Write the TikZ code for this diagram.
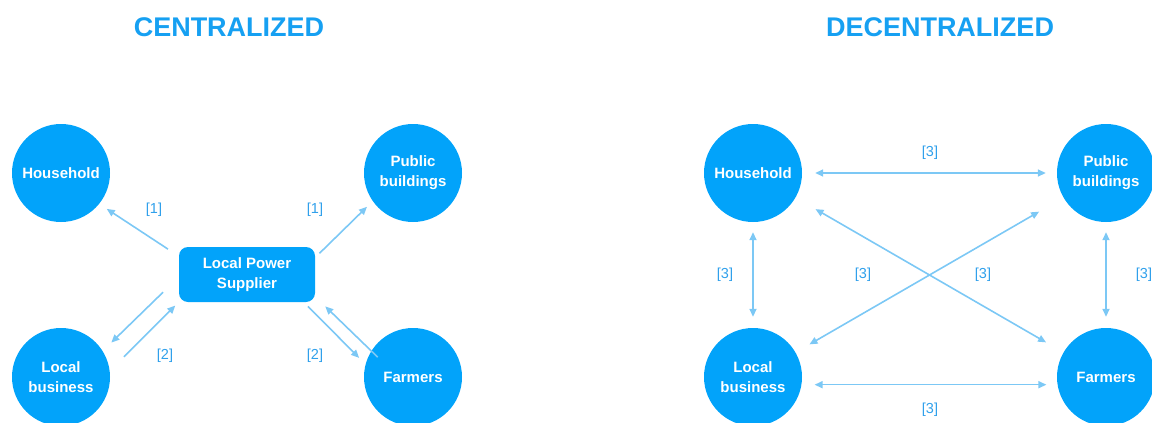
\documentclass[tikz,border=0pt]{standalone}
\usepackage{fontspec}
\setmainfont{Liberation Sans}
\usetikzlibrary{arrows.meta}

\begin{document}
\begin{tikzpicture}[x=1pt,y=-1pt,
    site/.style={circle, fill=sitecol, text=white, minimum size=98pt, inner sep=0pt, align=center,
      font=\fontsize{15pt}{20pt}\selectfont\bfseries},
    supplier/.style={rectangle, rounded corners=9pt, fill=sitecol, text=white, minimum width=136pt,
      minimum height=55pt, align=center, font=\fontsize{15pt}{20pt}\selectfont\bfseries},
    flow/.style={draw=flowcol, line width=1.6pt, -{Triangle[length=8pt,width=7pt]}},
    trade/.style={flow, {Triangle[length=8pt,width=7pt]}-{Triangle[length=8pt,width=7pt]}},
    tag/.style={text=tagcol, inner sep=0pt, font=\fontsize{14.5pt}{14.5pt}\selectfont},
    heading/.style={text=headcol, inner sep=0pt, font=\fontsize{27pt}{27pt}\selectfont\bfseries}]
  \definecolor{sitecol}{RGB}{2, 163, 250}
  \definecolor{flowcol}{RGB}{124, 200, 245}
  \definecolor{tagcol}{RGB}{48, 160, 235}
  \definecolor{headcol}{RGB}{22, 160, 242}
  \useasboundingbox (0,0) rectangle (1152,423);

  % centralized: one supplier feeding everybody
  \node[heading] (titleC) at (229,27) {CENTRALIZED};
  \node[site] (hh) at (61,173) {Household};
  \node[site] (pb) at (413,173) {Public\\buildings};
  \node[site] (lb) at (61,377) {Local\\business};
  \node[site] (fa) at (413,377) {Farmers};
  \node[supplier] (lps) at (247,274.5) {Local Power\\Supplier};

  \draw[flow, shorten <=13pt, shorten >=9pt] (lps.165) -- (hh.-39);
  \draw[flow, shorten <=6pt, shorten >=8pt] (lps.14) -- (pb.215);
  \draw[flow, shorten <=22pt, shorten >=12pt] (lps.182) -- (lb.32);
  \draw[flow, shorten <=20pt, shorten >=5pt] (lb.7) -- (lps.202);
  \draw[flow, shorten <=6pt, shorten >=9pt] (lps.-26) -- (fa.165);
  \draw[flow, shorten <=-9pt, shorten >=14pt] (fa.148) -- (lps.-18);

  \node[tag] (tagHH) at (154,210) {[1]};
  \node[tag] (tagPB) at (315,210) {[1]};
  \node[tag] (tagLB) at (165,356) {[2]};
  \node[tag] (tagFA) at (315,356) {[2]};

  % decentralized: everybody trades with everybody
  \node[heading] (titleD) at (940,27) {DECENTRALIZED};
  \node[site] (hh2) at (753,173) {Household};
  \node[site] (pb2) at (1106,173) {Public\\buildings};
  \node[site] (lb2) at (753,377) {Local\\business};
  \node[site] (fa2) at (1106,377) {Farmers};

  \draw[trade, shorten <=13pt, shorten >=11pt] (hh2) -- (pb2);
  \draw[trade, shorten <=13pt, shorten >=11pt] (lb2.-9) -- (fa2.189);
  \draw[trade, shorten <=10pt, shorten >=11pt] (hh2) -- (lb2);
  \draw[trade, shorten <=10pt, shorten >=11pt] (pb2) -- (fa2);
  \draw[trade, shorten <=23pt, shorten >=20pt] (hh2) -- (fa2);
  \draw[trade, shorten <=28pt, shorten >=16pt] (pb2) -- (lb2);

  \node[tag] (tagTop) at (930,153) {[3]};
  \node[tag] (tagBot) at (930,410) {[3]};
  \node[tag] (tagLeft) at (725,275) {[3]};
  \node[tag] (tagRight) at (1144,275) {[3]};
  \node[tag] (tagX1) at (863,275) {[3]};
  \node[tag] (tagX2) at (983,275) {[3]};
\end{tikzpicture}
\end{document}
